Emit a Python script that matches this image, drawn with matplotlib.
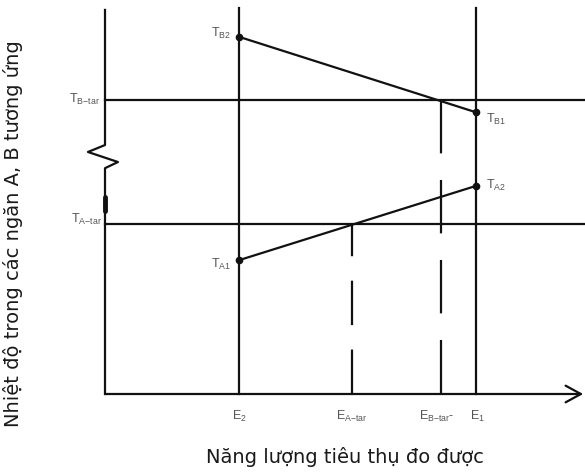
import matplotlib.pyplot as plt

plt.rcParams['font.family'] = ['Liberation Sans', 'DejaVu Sans']
plt.rcParams['mathtext.default'] = 'regular'

# ------------------- data (schematic units) -------------------
# energies on the x axis
e_names = ["E2", "EA_tar", "EB_tar", "E1"]
e_values = [1.12, 2.06, 2.80, 3.09]
e_labels = [r"E$_2$", r"E$_{A{-}tar}$", r"E$_{B{-}tar}$-", r"E$_1$"]

# temperatures of compartment B and A at E2 and E1
t_b = [9.25, 7.30]     # T_B2 at E2, T_B1 at E1
t_a = [3.47, 5.39]     # T_A1 at E2, T_A2 at E1
t_b_tar = 7.62
t_a_tar = 4.40

xlabel = "Năng lượng tiêu thụ đo được"
ylabel = "Nhiệt độ trong các ngăn A, B tương ứng"

ink = "#111111"
txt = "#555555"
lw = 1.6

fig = plt.figure(figsize=(5.85, 4.72), dpi=100)
ax = fig.add_axes([105 / 585, 78 / 472, 480 / 585, 386 / 472])
ax.set_xlim(0, 4)
ax.set_ylim(0, 10)
for s in ax.spines.values():
    s.set_visible(False)
ax.set_xticks([])
ax.set_yticks([])

E2, EA, EB, E1 = e_values

# y axis with a break (zigzag)
brk_x = [0, 0, 0.108, -0.142, 0, 0]
brk_y = [0, 5.85, 6.01, 6.27, 6.45, 9.95]
ax.plot(brk_x, brk_y, color=ink, lw=lw, clip_on=False)
ax.plot([0, 0], [4.75, 5.1], color=ink, lw=3.5, solid_capstyle='round', clip_on=False)

# x axis with arrow
ax.annotate("", xy=(3.985, 0), xytext=(0, 0),
            arrowprops=dict(arrowstyle="->,head_length=0.55,head_width=0.3",
                            color=ink, lw=lw, mutation_scale=20,
                            shrinkA=0, shrinkB=0),
            annotation_clip=False)

# vertical lines at E2 and E1
for e in (E2, E1):
    ax.plot([e, e], [0, 10], color=ink, lw=lw, clip_on=False)

# horizontal target lines
ax.plot([0, 4], [t_b_tar, t_b_tar], color=ink, lw=lw, clip_on=False)
ax.plot([0, 4], [t_a_tar, t_a_tar], color=ink, lw=lw, clip_on=False)

# dashed drop lines for target energies
ax.plot([EB, EB], [t_b_tar, 0], color=ink, lw=lw, dashes=(24, 12))
ax.plot([EA, EA], [0, t_a_tar], color=ink, lw=lw, dashes=(20, 11))

# temperature lines
ax.plot([E2, E1], t_b, color=ink, lw=lw, marker='o', ms=4.5)
ax.plot([E2, E1], t_a, color=ink, lw=lw, marker='o', ms=4.5)

# point labels
def lab(s, xy, dx, dy, ha):
    ax.annotate(s, xy=xy, xytext=(dx * 0.72, dy * 0.72), textcoords="offset points",
                ha=ha, va="center", fontsize=9, color=txt, annotation_clip=False)

lab(r"T$_{B2}$", (E2, t_b[0]), -8, 3, "right")
lab(r"T$_{B1}$", (E1, t_b[1]), 10, -7, "left")
lab(r"T$_{A1}$", (E2, t_a[0]), -8, -4, "right")
lab(r"T$_{A2}$", (E1, t_a[1]), 10, 0, "left")
lab(r"T$_{B{-}tar}$", (0, t_b_tar), -5, 0, "right")
lab(r"T$_{A{-}tar}$", (0, t_a_tar), -3, 5, "right")

for e, s, dx in zip(e_values, e_labels, [0, 0, -4, 2]):
    lab(s, (e, 0), dx, -22, "center")

lbl_font = dict(fontsize=14, family=['DejaVu Sans'], color="#1a1a1a")
ax.set_xlabel(xlabel, va="center", **lbl_font)
ax.xaxis.set_label_coords(0.5, -0.163)
ax.set_ylabel(ylabel, va="center", **lbl_font)
ax.yaxis.set_label_coords(-0.192, 0.415)

fig.savefig("out.png", dpi=100)
